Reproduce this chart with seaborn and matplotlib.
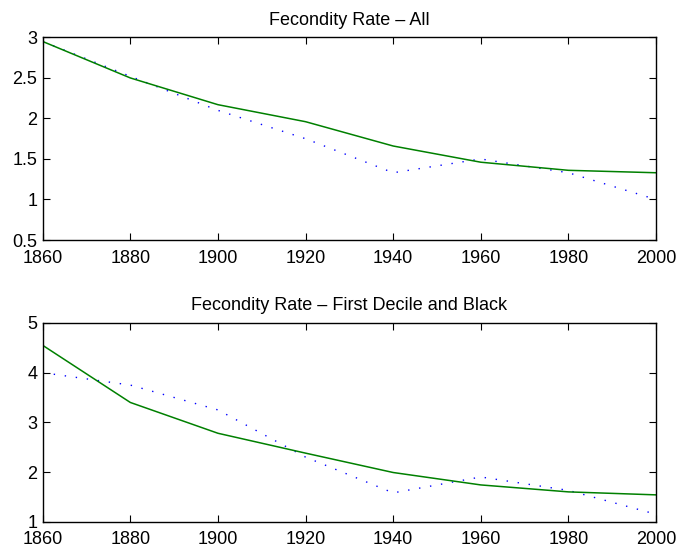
import matplotlib
matplotlib.use("Agg")
import matplotlib.pyplot as plt
import seaborn as sns
import pandas as pd

years = [1860, 1880, 1900, 1920, 1940, 1960, 1980, 2000]

all_model = [2.95, 2.50, 2.17, 1.96, 1.66, 1.46, 1.36, 1.33]
all_data = [2.95, 2.52, 2.10, 1.75, 1.33, 1.50, 1.33, 1.00]

fdb_model = [4.55, 3.40, 2.78, 2.38, 1.99, 1.74, 1.60, 1.54]
fdb_data = [4.00, 3.75, 3.25, 2.30, 1.58, 1.90, 1.63, 1.15]

titles = ["Fecondity Rate \u2013 All", "Fecondity Rate \u2013 First Decile and Black"]
xticks = [1860, 1880, 1900, 1920, 1940, 1960, 1980, 2000]
yticks_top = [0.5, 1, 1.5, 2, 2.5, 3]
yticklabels_top = ["0.5", "1", "1.5", "2", "2.5", "3"]
yticks_bot = [1, 2, 3, 4, 5]

sns.set_style("ticks")
plt.rcParams["font.family"] = ["Liberation Sans", "DejaVu Sans"]
plt.rcParams["text.color"] = "black"

fig = plt.figure(figsize=(6.8, 5.52), dpi=100)
ax1 = fig.add_axes([0.0628, 0.5652, 0.902, 0.367])
ax2 = fig.add_axes([0.0628, 0.0549, 0.902, 0.360])

green = (0, 0.5, 0)
blue = (0, 0, 1)

panels = [
    (ax1, all_model, all_data, titles[0], (0.5, 3), yticks_top, yticklabels_top),
    (ax2, fdb_model, fdb_data, titles[1], (1, 5), yticks_bot, [str(v) for v in yticks_bot]),
]

for ax, model, data, title, ylim, yt, ytl in panels:
    df_m = pd.DataFrame({"year": years, "value": model})
    df_d = pd.DataFrame({"year": years, "value": data})
    sns.lineplot(data=df_d, x="year", y="value", ax=ax, color=blue,
                 linewidth=1.0, linestyle=(0, (1, 7)))
    sns.lineplot(data=df_m, x="year", y="value", ax=ax, color=green,
                 linewidth=1.1)
    ax.set_xlim(1860, 2000)
    ax.set_ylim(*ylim)
    ax.set_xticks(xticks)
    ax.set_xticklabels([str(v) for v in xticks])
    ax.set_yticks(yt)
    ax.set_yticklabels(ytl)
    ax.set_xlabel("")
    ax.set_ylabel("")
    ax.set_title(title, fontsize=13, pad=9, color="black")
    for s in ax.spines.values():
        s.set_visible(True)
        s.set_linewidth(1.0)
        s.set_color("black")
    ax.tick_params(axis="both", direction="in", length=5, width=0.8,
                   top=True, right=True, labelsize=13, colors="black")
    ax.tick_params(axis="x", pad=7)
    ax.tick_params(axis="y", pad=4)

fig.savefig("out.png", dpi=100)
